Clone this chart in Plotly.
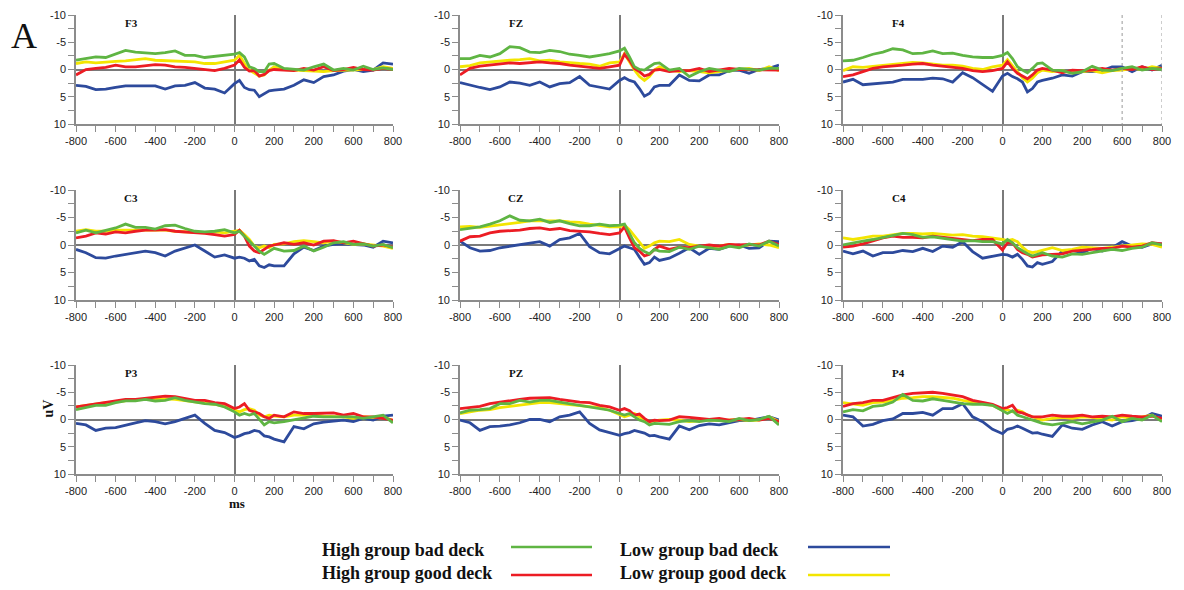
import plotly.graph_objects as go

# ---------------- data ----------------
times = [-800, -750, -700, -650, -600, -550, -500, -450, -400, -350, -300, -250, -200,
         -150, -100, -50, 0, 25, 50, 75, 100, 125, 150, 175, 200, 250, 300, 350, 400,
         450, 500, 550, 600, 650, 700, 750, 800]

channels = ["F3", "FZ", "F4", "C3", "CZ", "C4", "P3", "PZ", "P4"]

x_tick_vals = [-800, -700, -600, -500, -400, -300, -200, -100, 0, 100, 200, 300, 400, 500, 600, 700, 800]
x_tick_text = ["-800", "", "-600", "", "-400", "", "-200", "", "0", "", "200", "", "200", "", "600", "", "800"]
y_tick_vals = [-10, -7.5, -5, -2.5, 0, 2.5, 5, 7.5, 10]
y_tick_text = ["-10", "", "-5", "", "0", "", "5", "", "10"]

series_names = ["High group bad deck", "High group good deck", "Low group bad deck", "Low group good deck"]
series_colors = ["#5fb543", "#ec1c24", "#2d4a9c", "#f3e500"]

F3_high_bad = [-1.7, -2.0, -2.3, -2.2, -2.9, -3.5, -3.2, -3.1, -2.9, -3.1, -3.4, -2.6, -2.6, -2.2, -2.4, -2.6, -2.8, -3.1, -2.3, -0.5, -0.2, 0.4, 0.4, -1.0, -1.1, -0.2, 0.0, 0.1, -0.5, -1.0, 0.1, -0.2, 0.1, -0.6, 0.0, -0.3, 0.0]
F3_high_good = [1.0, 0.0, -0.2, -0.4, -0.8, -0.5, -0.5, -0.7, -0.9, -0.8, -0.5, -0.4, -0.2, 0.1, 0.2, -0.2, -0.8, -1.8, -0.4, 0.3, 0.2, 1.2, 0.9, 0.2, 0.0, 0.1, 0.2, -0.2, 0.1, -0.5, 0.2, 0.0, -0.4, 0.0, 0.1, -0.2, 0.0]
F3_low_bad = [2.9, 3.1, 3.7, 3.6, 3.3, 3.0, 3.0, 3.0, 3.0, 3.6, 3.0, 2.9, 2.4, 3.4, 3.6, 4.3, 2.6, 2.0, 3.3, 3.7, 3.8, 5.0, 4.5, 3.9, 3.8, 3.6, 2.9, 1.9, 2.4, 1.3, 1.0, 0.3, 0.0, 0.4, 0.1, -1.2, -1.0]
F3_low_good = [-1.1, -1.4, -1.2, -1.4, -1.5, -1.6, -1.8, -2.0, -1.7, -1.6, -1.5, -1.4, -1.4, -1.1, -1.1, -1.4, -1.7, -2.6, -1.1, 0.1, 0.7, 1.2, 1.0, 0.1, -0.5, 0.0, 0.1, 0.2, 0.4, 0.4, 0.2, 0.1, 0.1, 0.0, 0.0, -0.5, -0.2]

FZ_high_bad = [-2.0, -2.0, -2.6, -2.3, -2.9, -4.2, -4.0, -3.2, -3.1, -3.5, -3.3, -2.8, -2.6, -2.3, -2.6, -2.9, -3.4, -3.9, -2.3, -0.5, 0.0, 0.1, -0.5, -1.1, -1.2, 0.1, -0.2, 1.3, 0.4, -0.2, 0.1, 0.4, -0.2, 0.0, 0.1, -0.2, -0.2]
FZ_high_good = [1.0, -0.2, -0.6, -0.8, -1.0, -1.2, -1.1, -1.3, -1.4, -1.2, -1.1, -0.8, -0.6, -0.5, -0.2, -0.5, -0.8, -2.8, -1.7, -0.2, 0.4, 1.2, 0.9, 0.1, 0.0, 0.4, 0.2, 0.2, -0.2, 0.4, 0.1, -0.2, 0.0, 0.0, 0.1, 0.0, 0.1]
FZ_low_bad = [2.4, 2.9, 3.3, 3.7, 3.2, 2.3, 2.5, 2.9, 2.3, 3.2, 2.6, 2.4, 1.3, 2.9, 3.3, 3.6, 2.0, 1.5, 2.0, 2.3, 3.5, 4.9, 4.4, 3.2, 2.9, 2.9, 1.0, 2.0, 2.1, 1.0, 1.0, 0.2, 0.1, 0.7, 0.0, -0.2, -0.8]
FZ_low_good = [-0.5, -0.7, -1.2, -1.4, -1.6, -1.7, -1.8, -2.0, -1.6, -1.7, -1.4, -1.2, -1.1, -1.0, -0.6, -1.2, -1.4, -2.9, -1.4, 0.1, 1.3, 2.0, 1.3, 0.1, -0.5, 0.1, 0.4, 0.2, 0.4, 0.6, 0.4, 0.1, 0.0, -0.2, 0.2, -0.5, 0.2]

F4_high_bad = [-1.6, -1.7, -2.2, -2.8, -3.2, -3.8, -3.6, -2.9, -3.0, -3.4, -2.9, -3.0, -2.6, -2.3, -2.2, -2.2, -2.6, -3.1, -2.0, -0.5, 0.1, 0.6, -0.2, -1.1, -1.2, 0.1, 0.2, 0.7, 0.4, -0.6, 0.1, 0.2, -0.2, -0.5, 0.1, -0.2, 0.0]
F4_high_good = [1.3, 1.0, 0.4, -0.2, -0.5, -0.6, -0.8, -1.0, -1.1, -0.8, -0.6, -0.5, -0.2, 0.2, 0.4, 0.2, -0.2, -1.4, -0.2, 0.7, 1.2, 1.7, 1.0, 0.1, -0.2, 0.1, 0.6, 0.1, 0.2, 0.1, -0.2, 0.1, -0.2, 0.0, -0.5, 0.0, -0.2]
F4_low_bad = [2.3, 1.8, 2.8, 2.6, 2.4, 2.3, 1.8, 1.8, 1.8, 1.6, 1.7, 2.3, 0.6, 1.5, 2.7, 4.0, 1.2, 0.7, 1.3, 1.7, 2.3, 4.1, 3.5, 2.3, 2.0, 1.6, 1.0, 1.2, 0.4, 0.4, 0.2, -0.5, -0.5, 0.4, -0.5, 0.1, -0.8]
F4_low_good = [0.2, -0.5, -0.4, -0.6, -0.8, -1.0, -1.1, -1.3, -1.2, -1.0, -0.8, -0.8, -0.6, -0.2, 0.0, -0.5, -0.8, -1.8, -0.8, 0.4, 1.5, 2.3, 1.6, 0.6, 0.1, 0.4, 0.2, 0.6, 0.4, 0.2, 0.6, 0.2, 0.1, -0.2, 0.0, -0.5, -0.2]

C3_high_bad = [-2.2, -2.7, -2.2, -2.7, -3.1, -3.8, -3.2, -3.2, -2.9, -3.5, -3.6, -3.0, -2.5, -2.4, -2.5, -2.8, -2.2, -2.5, -1.6, -0.8, 0.2, 1.1, 1.7, 1.1, 0.6, 1.1, 1.0, 0.2, 1.1, 0.4, -0.4, -0.6, -0.1, -0.2, 0.2, -0.1, 0.5]
C3_high_good = [-1.3, -1.6, -2.2, -2.0, -2.4, -2.2, -2.5, -2.7, -2.7, -2.8, -2.5, -2.4, -2.2, -2.1, -1.9, -1.6, -1.9, -2.7, -1.6, 0.2, 1.1, 1.4, 0.8, 0.2, 0.0, -0.4, -0.1, -0.4, 0.0, -0.7, -0.8, -0.4, -0.7, -0.2, 0.2, 0.0, 0.4]
C3_low_bad = [0.8, 1.4, 2.3, 2.4, 2.0, 1.7, 1.4, 1.1, 1.4, 2.0, 1.1, 0.6, 0.0, 1.1, 2.2, 1.8, 2.4, 2.2, 2.4, 2.9, 2.6, 3.8, 4.1, 3.6, 3.8, 3.8, 1.6, 0.4, 1.0, 0.2, -0.1, -0.2, -0.1, 0.0, 0.4, -0.7, -0.4]
C3_low_good = [-2.5, -2.8, -2.5, -2.5, -2.7, -2.7, -2.8, -2.8, -2.7, -2.7, -2.5, -2.4, -2.4, -2.2, -2.4, -2.2, -2.5, -2.7, -1.9, -1.0, 0.2, 0.5, 0.2, 0.5, -0.1, -0.2, -0.6, -0.8, -0.6, -0.4, -0.7, -0.4, -0.1, -0.2, 0.0, 0.2, 0.6]

CZ_high_bad = [-2.8, -3.0, -3.3, -3.8, -4.4, -5.3, -4.5, -4.4, -4.7, -4.1, -4.4, -3.9, -3.5, -3.5, -3.8, -3.5, -3.6, -3.8, -2.2, -0.4, 0.6, 1.2, 1.6, 0.8, 1.1, 1.2, 0.4, 0.8, 0.2, 0.5, 0.8, 0.2, 0.5, -0.2, 0.2, -0.7, 0.2]
CZ_high_good = [-0.7, -1.5, -1.6, -2.2, -2.5, -2.6, -2.7, -3.0, -3.1, -2.8, -3.0, -2.6, -2.5, -2.4, -2.1, -1.9, -2.2, -3.3, -1.3, 0.5, 1.1, 2.0, 1.7, 0.8, 0.2, 0.8, 0.4, 0.5, 0.2, 0.0, 0.2, -0.1, 0.0, -0.1, 0.0, -0.7, -0.1]
CZ_low_bad = [-0.7, 0.5, 1.1, 1.0, 0.5, 0.2, -0.1, -0.4, -0.6, 0.2, -1.0, -1.3, -2.1, 0.3, 1.4, 1.6, 0.6, 0.2, 0.5, 0.8, 2.2, 3.5, 3.2, 2.2, 2.8, 2.4, 1.5, 0.5, 1.7, 0.6, 0.8, 0.2, 0.0, 0.6, 0.5, -0.7, -0.6]
CZ_low_good = [-3.3, -3.4, -3.2, -3.4, -3.6, -3.9, -4.1, -4.4, -4.4, -4.5, -4.4, -4.2, -4.1, -3.8, -3.5, -3.3, -3.3, -3.6, -2.8, -1.6, -0.4, 0.6, 0.2, -0.4, -0.7, -0.6, -1.0, -0.1, 0.2, 0.4, 0.2, -0.1, 0.2, 0.0, -0.2, 0.0, 0.5]

C4_high_bad = [0.0, -0.4, -0.7, -1.0, -1.4, -1.7, -2.1, -1.9, -1.4, -1.5, -1.2, -1.0, -0.7, -0.8, -0.6, -0.6, -0.2, -1.0, -0.4, 0.5, 1.1, 1.6, 2.0, 1.7, 1.4, 2.0, 2.2, 1.6, 1.7, 1.4, 1.1, 0.8, 1.0, 0.6, 0.4, -0.4, 0.0]
C4_high_good = [0.4, 0.2, -0.2, -0.8, -1.3, -1.6, -1.4, -1.4, -1.3, -1.6, -1.4, -1.2, -1.0, -0.8, -1.0, -1.0, 0.9, -0.4, -0.4, 0.8, 1.4, 1.7, 2.2, 2.0, 1.8, 1.7, 1.6, 1.1, 1.0, 0.8, 0.6, 0.6, 0.2, 0.4, 0.2, -0.4, -0.2]
C4_low_bad = [1.1, 1.6, 1.1, 2.0, 1.4, 1.4, 1.0, 1.2, 0.6, 1.2, 0.2, 0.4, -0.6, 1.2, 2.4, 2.1, 1.7, 1.8, 2.2, 1.7, 2.6, 3.8, 4.0, 3.2, 3.5, 3.0, 1.1, 1.0, 1.4, 0.6, 1.1, 0.5, -0.6, 0.2, 0.4, -0.2, -0.2]
C4_low_good = [-1.3, -1.0, -1.3, -1.6, -1.6, -1.9, -2.1, -2.1, -2.0, -2.1, -2.0, -1.8, -1.9, -1.6, -1.5, -1.3, -1.0, -0.8, -1.0, -0.6, 0.4, 1.1, 1.4, 1.2, 1.0, 0.5, 1.0, 0.8, 0.4, 0.5, 0.6, 0.4, 0.2, 0.0, -0.2, -0.1, 0.4]

P3_high_bad = [-1.8, -2.2, -2.6, -2.6, -3.1, -3.4, -3.4, -3.7, -3.4, -3.5, -4.0, -3.5, -3.2, -2.9, -2.8, -2.3, -1.4, -0.8, -1.1, -0.8, -1.1, 0.0, 1.0, 0.4, 0.6, 0.4, 0.1, -0.2, -0.6, -0.5, -0.5, -0.4, -0.5, -0.2, -0.5, -0.8, 0.6]
P3_high_good = [-2.3, -2.6, -2.9, -3.1, -3.5, -3.7, -3.7, -3.9, -4.2, -4.3, -4.2, -3.9, -3.5, -3.5, -3.1, -2.9, -2.0, -2.3, -2.9, -1.7, -1.4, -1.1, -0.5, -0.2, -0.8, -0.5, -1.4, -1.1, -1.1, -1.1, -1.2, -0.8, -1.1, -0.5, -0.5, -0.2, 0.1]
P3_low_bad = [0.7, 1.0, 2.0, 1.6, 1.5, 1.0, 0.6, 0.2, 0.4, 0.8, 0.4, -0.2, -0.8, 0.7, 2.0, 2.4, 3.3, 3.0, 2.6, 2.4, 2.0, 2.2, 3.0, 3.2, 3.6, 4.1, 1.3, 1.7, 0.8, 0.5, 0.3, 0.1, 0.4, -0.2, 0.1, -0.6, -0.8]
P3_low_good = [-2.3, -2.6, -2.8, -3.1, -3.2, -3.5, -3.7, -3.7, -3.8, -3.8, -3.7, -3.5, -3.2, -3.1, -2.8, -2.4, -1.7, -1.4, -1.8, -2.0, -1.7, -0.8, -0.5, -0.8, -0.6, -0.5, -0.8, -0.8, -0.8, -0.6, -0.5, -0.5, -0.2, -0.5, -0.4, -0.5, 0.2]

PZ_high_bad = [-1.2, -1.7, -1.8, -2.0, -2.9, -2.9, -3.5, -3.2, -3.5, -3.5, -3.2, -2.9, -2.6, -2.4, -2.0, -1.7, -1.1, -0.8, -1.1, -0.5, 0.1, 0.4, 1.0, 0.7, 0.8, 0.9, 0.4, 0.2, 0.4, 0.1, 0.2, 0.4, -0.2, 0.2, 0.0, -0.6, 1.0]
PZ_high_good = [-2.0, -2.2, -2.4, -2.9, -3.2, -3.4, -3.7, -3.9, -3.9, -4.0, -3.7, -3.4, -3.2, -3.1, -2.6, -2.3, -1.7, -2.0, -1.6, -0.8, -1.0, -0.2, 0.4, 0.1, 0.2, 0.1, -0.5, -0.4, -0.2, 0.0, -0.2, 0.1, 0.0, -0.2, 0.1, -0.2, 0.4]
PZ_low_bad = [0.1, 0.6, 2.0, 1.3, 1.2, 1.0, 0.6, 0.0, 0.0, 0.4, -0.5, -0.8, -1.4, 0.7, 1.9, 2.4, 2.9, 2.6, 2.4, 2.0, 2.2, 2.5, 3.0, 2.9, 3.2, 3.6, 1.2, 1.9, 1.1, 0.8, 1.0, 0.6, 0.2, 0.2, -0.2, -0.5, 0.1]
PZ_low_good = [-1.1, -1.4, -1.7, -1.8, -2.2, -2.4, -2.6, -2.9, -3.1, -3.1, -2.9, -2.8, -2.6, -2.3, -2.2, -1.7, -0.8, -0.5, -0.8, -1.1, -0.5, 0.1, 0.4, 0.2, 0.1, 0.0, 0.1, 0.4, 0.2, 0.1, 0.2, 0.1, 0.0, 0.2, 0.1, -0.5, 0.4]

P4_high_bad = [-1.4, -1.8, -1.6, -2.4, -2.6, -3.2, -4.6, -3.5, -3.4, -3.8, -3.5, -3.2, -2.9, -2.8, -2.8, -2.6, -1.7, -1.1, -1.6, -0.8, -0.5, -0.2, 0.1, 0.4, 0.7, 1.0, 0.7, 0.4, 0.8, 0.4, 0.1, -0.6, 0.4, -0.2, 0.1, -0.8, 0.4]
P4_high_good = [-2.4, -2.9, -3.1, -3.5, -3.5, -4.0, -4.5, -4.8, -4.9, -5.0, -4.8, -4.5, -4.2, -3.5, -3.1, -2.8, -2.0, -2.2, -2.6, -1.4, -1.2, -0.8, -0.5, -0.5, -0.5, -0.8, -0.6, -0.6, -0.8, -0.5, -0.6, -0.5, -0.8, -0.6, -0.5, -0.6, -0.2]
P4_low_bad = [-0.8, -0.5, 1.2, 0.9, 0.2, -0.1, -1.1, -1.1, -1.3, -0.8, -2.0, -2.0, -2.9, -0.5, 0.4, 1.8, 2.6, 1.8, 1.6, 1.2, 1.6, 2.0, 2.5, 2.4, 2.7, 3.1, 1.0, 1.6, 1.8, 1.0, 0.4, 1.2, 0.4, 0.2, -0.2, -1.1, -0.6]
P4_low_good = [-3.1, -2.9, -2.6, -3.1, -3.2, -3.5, -3.9, -4.0, -4.2, -4.2, -4.0, -3.9, -3.5, -3.2, -2.9, -2.6, -1.7, -1.8, -1.4, -1.7, -1.4, -0.8, -0.5, -0.2, 0.1, -0.2, -0.4, -0.2, -0.5, -0.4, -0.2, 0.1, -0.5, -0.2, -0.5, -0.8, 0.2]

channel_data = {
    "F3": [F3_high_bad, F3_high_good, F3_low_bad, F3_low_good],
    "FZ": [FZ_high_bad, FZ_high_good, FZ_low_bad, FZ_low_good],
    "F4": [F4_high_bad, F4_high_good, F4_low_bad, F4_low_good],
    "C3": [C3_high_bad, C3_high_good, C3_low_bad, C3_low_good],
    "CZ": [CZ_high_bad, CZ_high_good, CZ_low_bad, CZ_low_good],
    "C4": [C4_high_bad, C4_high_good, C4_low_bad, C4_low_good],
    "P3": [P3_high_bad, P3_high_good, P3_low_bad, P3_low_good],
    "PZ": [PZ_high_bad, PZ_high_good, PZ_low_bad, PZ_low_good],
    "P4": [P4_high_bad, P4_high_good, P4_low_bad, P4_low_good],
}

f4_dotted_x = [600, 800]

# ---------------- layout ----------------
PAGE_W, PAGE_H = 1184, 590
OFF = 8  # default page margin around the figure div
W, H = PAGE_W - OFF, PAGE_H - OFF


def px(x):
    return (x - OFF) / W


def py(y):
    return 1 - (y - OFF) / H


col_px = [(76, 393), (460, 779), (843, 1162)]
row_px = [(15, 124), (190, 300), (365, 474)]

AX_COLOR = "#8c8c8c"
ZERO_COLOR = "#7a7a7a"
TICK_FONT = dict(family="Liberation Sans, Arial", size=11, color="#222222")
SERIF = "Liberation Serif, Times New Roman, serif"

fig = go.Figure()
draw_order = [2, 3, 1, 0]  # blue, yellow, red, green on top

layout_axes = {}
annotations = []
shapes = []

for idx, ch in enumerate(channels):
    r, c = divmod(idx, 3)
    n = idx + 1
    xa = "x" if n == 1 else f"x{n}"
    ya = "y" if n == 1 else f"y{n}"
    xkey = "xaxis" if n == 1 else f"xaxis{n}"
    ykey = "yaxis" if n == 1 else f"yaxis{n}"
    x0, x1 = col_px[c]
    y0, y1 = row_px[r]
    common = dict(
        tickmode="array", ticks="outside", ticklen=6, tickwidth=1.2, tickcolor=AX_COLOR,
        showline=True, linecolor=AX_COLOR, linewidth=1.6,
        zeroline=True, zerolinecolor=ZERO_COLOR, zerolinewidth=2,
        showgrid=False, tickfont=TICK_FONT, fixedrange=True, automargin=False,
    )
    layout_axes[xkey] = dict(domain=[px(x0), px(x1)], anchor=ya, range=[-800, 800],
                             tickvals=x_tick_vals, ticktext=x_tick_text, **common)
    layout_axes[ykey] = dict(domain=[py(y1), py(y0)], anchor=xa, range=[10, -10],
                             tickvals=y_tick_vals, ticktext=y_tick_text, **common)
    series = channel_data[ch]
    for s in draw_order:
        fig.add_trace(go.Scatter(
            x=times, y=series[s], mode="lines", xaxis=xa, yaxis=ya,
            line=dict(color=series_colors[s], width=2.8),
            name=series_names[s], showlegend=False, hoverinfo="skip",
        ))
    annotations.append(dict(
        x=-520, y=-8.6, xref=xa, yref=ya, text=f"<b>{ch}</b>", showarrow=False,
        font=dict(family=SERIF, size=11, color="#111111"),
    ))
    if ch == "F4":
        for xv in f4_dotted_x:
            shapes.append(dict(type="line", xref=xa, yref=ya, x0=xv, x1=xv, y0=-10, y1=10,
                               line=dict(color="#9a9a9a", width=1, dash="dot")))

# Panel letter and axis titles
annotations.append(dict(x=px(24), y=py(36), xref="paper", yref="paper", text="A",
                        showarrow=False, xanchor="center", yanchor="middle",
                        font=dict(family=SERIF, size=36, color="#111111")))
annotations.append(dict(x=px(38), y=py(420), xref="paper", yref="paper", text="<b>uV</b>",
                        showarrow=False, textangle=-90,
                        font=dict(family=SERIF, size=14, color="#111111")))
annotations.append(dict(x=px(227), y=py(513), xref="paper", yref="paper", text="<b>ms</b>",
                        showarrow=False,
                        font=dict(family=SERIF, size=13, color="#111111")))

# Custom legend: text followed by line sample
legend_pos = [(320, 550, 547, 511, 592), (320, 573, 575, 511, 592),
              (618, 550, 547, 808, 890), (618, 573, 575, 808, 890)]
for s, (tx, ty, ly, lx0, lx1) in enumerate(legend_pos):
    annotations.append(dict(x=px(tx), y=py(ty), xref="paper", yref="paper",
                            text=f"<b>{series_names[s]}</b>", showarrow=False,
                            xanchor="left", yanchor="middle",
                            font=dict(family=SERIF, size=18, color="#111111")))
    shapes.append(dict(type="line", xref="paper", yref="paper",
                       x0=px(lx0), x1=px(lx1), y0=py(ly), y1=py(ly),
                       line=dict(color=series_colors[s], width=2.5)))

fig.update_layout(
    width=W, height=H, margin=dict(l=0, r=0, t=0, b=0, autoexpand=False),
    paper_bgcolor="white", plot_bgcolor="white",
    showlegend=False, annotations=annotations, shapes=shapes,
    **layout_axes,
)

fig.write_html("out.html")
